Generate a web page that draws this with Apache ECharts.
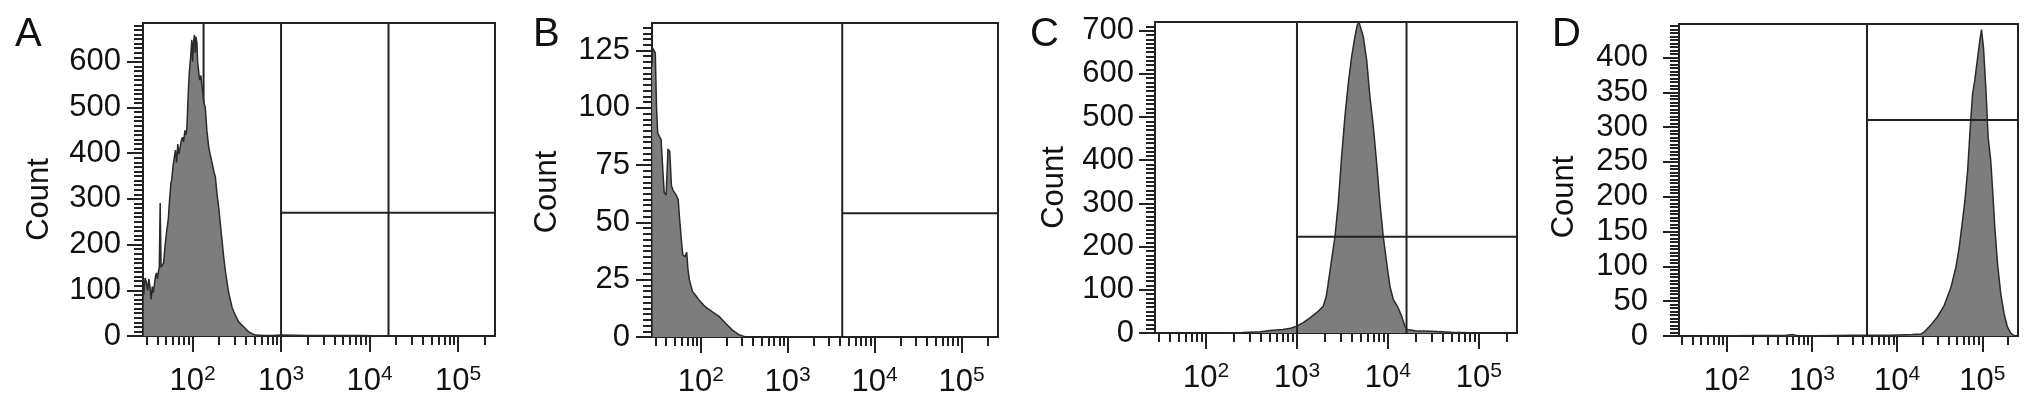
<!DOCTYPE html>
<html>
<head>
<meta charset="utf-8">
<title>Count histograms A-D</title>
<script src="https://cdn.jsdelivr.net/npm/echarts@6/dist/echarts.min.js"></script>
<style>
  html, body { margin: 0; padding: 0; background: #fff; }
  #chart { width: 2032px; height: 404px; }
</style>
</head>
<body>
<div id="chart"></div>
<script>
// panel letters
const panelNames = ["A", "B", "C", "D"];

// x axis: fluorescence intensity, log scale (18-bit range)
const xRange = [27.5, 262144];
const decadeTicks = [100, 1000, 10000, 100000];

// y axis tick labels per panel
const yTicksA = [0, 100, 200, 300, 400, 500, 600];
const yTicksB = [0, 25, 50, 75, 100, 125];
const yTicksC = [0, 100, 200, 300, 400, 500, 600, 700];
const yTicksD = [0, 50, 100, 150, 200, 250, 300, 350, 400];
const yMax = [685, 137, 720, 448];

// histograms: [intensity, count]
const histA = [
  [28, 90], [29, 127], [30, 118], [31, 100], [32, 125], [33, 107], [34, 80], [35, 108],
  [36, 95], [38, 130], [39, 138], [40, 125], [41, 140], [42, 150], [43, 291], [44, 150],
  [46, 151], [47, 160], [49, 200], [51, 230], [53, 254], [55, 300], [57, 335], [58, 341],
  [60, 370], [62, 390], [64, 407], [66, 380], [68, 420], [70, 398], [73, 400], [75, 430],
  [77, 435], [79, 425], [82, 450], [84, 440], [86, 452], [88, 500], [90, 545], [92, 580],
  [95, 610], [98, 648], [100, 600], [102, 640], [105, 659], [107, 620], [109, 655], [112, 641],
  [114, 600], [117, 604], [120, 560], [124, 570], [128, 545], [134, 510], [139, 501], [145, 450],
  [152, 414], [159, 395], [166, 379], [174, 360], [181, 348], [189, 310], [197, 282], [206, 245],
  [215, 210], [224, 175], [234, 144], [245, 118], [256, 94], [268, 78], [279, 63], [291, 54],
  [304, 46], [318, 38], [332, 31], [355, 25], [378, 20], [404, 14], [431, 9], [470, 5],
  [513, 2], [650, 1], [791, 1], [1000, 2], [2000, 1], [4000, 1], [8000, 1], [15000, 0]
];
const histB = [
  [27.5, 118], [28, 126], [30, 124], [31, 100], [32, 89], [34, 87], [35, 86], [37, 70],
  [38, 63], [40, 62], [42, 82], [44, 81], [46, 66], [48, 64], [52, 62], [55, 60],
  [57, 52], [60, 42], [62, 36], [66, 35], [69, 37], [71, 30], [74, 25], [80, 20],
  [88, 18], [96, 16], [114, 13], [136, 11], [162, 9], [193, 6], [231, 3], [275, 1], [327, 0]
];
const histC = [
  [150, 0], [250, 1], [400, 3], [505, 6], [700, 8], [850, 11], [991, 16], [1172, 24],
  [1390, 35], [1644, 47], [1945, 62], [2100, 85], [2208, 116], [2404, 170], [2618, 224], [2844, 301],
  [3097, 409], [3365, 501], [3664, 578], [3990, 640], [4335, 686], [4603, 713], [4800, 720], [5012, 717],
  [5358, 686], [5834, 632], [6339, 547], [6902, 478], [7516, 393], [8166, 301], [8872, 224], [9683, 162],
  [10520, 108], [11430, 78], [12970, 58], [14130, 39], [15380, 16], [16290, 8], [20000, 5], [30000, 4],
  [50000, 2], [100000, 0]
];
const histD = [
  [60, 0], [500, 1], [600, 2], [700, 0], [3000, 1], [8511, 1], [15000, 2], [19100, 3],
  [20890, 6], [25000, 16], [29920, 28], [35730, 44], [42850, 70], [48980, 99], [53580, 128], [58610, 166],
  [62370, 194], [67140, 237], [72110, 299], [76740, 347], [81660, 368], [87900, 399], [94410, 428], [97720, 440],
  [103300, 413], [109900, 356], [117000, 285], [125600, 251], [131500, 213], [140000, 156], [150700, 104], [164400, 61],
  [179900, 32], [196800, 13], [215300, 4], [239900, 0]
];

// gates: vertical lines (intensity), horizontal line [from intensity, count]
const vGates = [[1000, 16400], [4240], [1000, 16000], [4430]];
const vGatesBehind = [[133], [], [], []];
const hGates = [[1000, 270], [4240, 54], [1000, 223], [4430, 310]];

const hists = [histA, histB, histC, histD];
const yTicks = [yTicksA, yTicksB, yTicksC, yTicksD];

// layout
const grids = [
  { left: 143, top: 23, width: 352, height: 313 },
  { left: 652, top: 23, width: 346, height: 314 },
  { left: 1155, top: 22, width: 362, height: 311 },
  { left: 1679, top: 24, width: 339, height: 312 }
];
const letterPos = [[10, 10], [528, 10], [1025, 10], [1547, 10]];
const labelMargin = [22, 22, 21, 31];
const nameGap = [88, 89, 85, 99];
const nameShift = [20, 12, 10, 17];

const font = "Liberation Sans, Arial, Helvetica, sans-serif";
const ink = "#111";
const lg = v => Math.log10(v);

// minor log ticks 2..9 x 10^n
const minorTicks = [];
for (let e = 1; e <= 5; e++) {
  for (let m = 2; m <= 9; m++) {
    const v = m * Math.pow(10, e);
    if (v > xRange[0] && v < xRange[1]) minorTicks.push(lg(v));
  }
}

const chart = echarts.init(document.getElementById("chart"));

const option = {
  animation: false,
  backgroundColor: "#fff",
  title: panelNames.map((n, i) => ({
    text: n,
    left: letterPos[i][0],
    top: letterPos[i][1],
    textStyle: { fontSize: 40, fontWeight: "normal", color: ink, fontFamily: font }
  })),
  grid: grids.map(g => Object.assign({ show: true, borderColor: "#222", borderWidth: 2, backgroundColor: "transparent" }, g)),
  xAxis: [],
  yAxis: [],
  series: []
};

grids.forEach((g, i) => {
  // minor ticks axis
  option.xAxis.push({
    type: "value",
    gridIndex: i,
    position: "bottom",
    min: lg(xRange[0]),
    max: lg(xRange[1]),
    axisLine: { show: true, lineStyle: { color: "#222", width: 2 } },
    axisTick: { show: true, customValues: minorTicks, length: 9, lineStyle: { color: "#222", width: 2 } },
    axisLabel: { show: false },
    splitLine: { show: false }
  });
  // decade ticks + labels
  option.xAxis.push({
    type: "value",
    gridIndex: i,
    position: "bottom",
    min: lg(xRange[0]),
    max: lg(xRange[1]),
    axisLine: { show: false },
    axisTick: { show: true, customValues: decadeTicks.map(lg), length: 16, lineStyle: { color: "#222", width: 2 } },
    axisLabel: {
      show: true,
      customValues: decadeTicks.map(lg),
      margin: 28,
      formatter: v => "{b|10}{s|" + Math.round(v) + "}",
      rich: {
        b: { fontSize: 31, fontFamily: font, color: ink, lineHeight: 34 },
        s: { fontSize: 21, fontFamily: font, color: ink, lineHeight: 15, verticalAlign: "top" }
      }
    },
    splitLine: { show: false }
  });
  option.yAxis.push({
    type: "value",
    gridIndex: i,
    min: 0,
    max: yMax[i],
    interval: yTicks[i][1] - yTicks[i][0],
    name: "Count",
    nameLocation: "middle",
    nameGap: nameGap[i],
    nameTextStyle: { fontSize: 31, fontFamily: font, color: ink, padding: [0, 2 * nameShift[i], 0, 0] },
    axisLine: { show: true, lineStyle: { color: "#222", width: 2 } },
    axisTick: { show: true, customValues: yTicks[i], length: 16, lineStyle: { color: "#222", width: 2 } },
    minorTick: { show: true, splitNumber: 10, length: 9, lineStyle: { color: "#222", width: 2 } },
    axisLabel: { show: true, customValues: yTicks[i], margin: labelMargin[i], fontSize: 31, fontFamily: font, color: ink },
    splitLine: { show: false }
  });

  const xi = 2 * i;
  const gateStyle = { color: "#222", width: 2 };
  vGatesBehind[i].forEach(x => {
    option.series.push({
      type: "line", xAxisIndex: xi, yAxisIndex: i, symbol: "none", silent: true, z: 1,
      lineStyle: gateStyle, data: [[lg(x), 0], [lg(x), yMax[i]]]
    });
  });
  option.series.push({
    type: "line",
    xAxisIndex: xi,
    yAxisIndex: i,
    symbol: "none",
    silent: true,
    z: 2,
    lineStyle: { color: "#2a2a2a", width: 1.5 },
    areaStyle: { color: "#7d7d7d", opacity: 1 },
    data: hists[i].map(d => [lg(d[0]), d[1]])
  });
  vGates[i].forEach(x => {
    option.series.push({
      type: "line", xAxisIndex: xi, yAxisIndex: i, symbol: "none", silent: true, z: 3,
      lineStyle: gateStyle, data: [[lg(x), 0], [lg(x), yMax[i]]]
    });
  });
  option.series.push({
    type: "line", xAxisIndex: xi, yAxisIndex: i, symbol: "none", silent: true, z: 3,
    lineStyle: gateStyle, data: [[lg(hGates[i][0]), hGates[i][1]], [lg(xRange[1]), hGates[i][1]]]
  });
});

chart.setOption(option);
</script>
</body>
</html>
